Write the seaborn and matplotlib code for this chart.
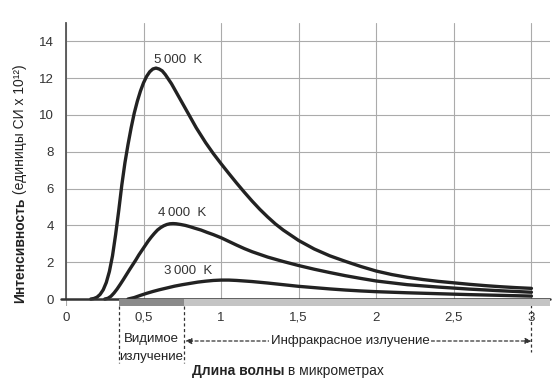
import numpy as np
import pandas as pd
import matplotlib.pyplot as plt
import seaborn as sns

# ---- values (wavelength in micrometres, intensity in SI units x 10^12)
wl_5000 = [0.16, 0.18, 0.20, 0.22, 0.24, 0.26, 0.28, 0.30, 0.32, 0.34, 0.36, 0.38, 0.40,
           0.42, 0.44, 0.46, 0.48, 0.50, 0.52, 0.54, 0.56, 0.58, 0.60, 0.62, 0.64, 0.66,
           0.68, 0.70, 0.72, 0.75, 0.78, 0.81, 0.84, 0.87, 0.90, 0.95, 1.00, 1.05, 1.10,
           1.15, 1.20, 1.25, 1.30, 1.35, 1.40, 1.50, 1.60, 1.70, 1.80, 1.90, 2.00, 2.10,
           2.20, 2.30, 2.40, 2.50, 2.60, 2.70, 2.80, 2.90, 3.00]
int_5000 = [0.0, 0.03, 0.1, 0.25, 0.5, 0.9, 1.5, 2.35, 3.5, 4.8, 6.2, 7.4, 8.4,
            9.3, 10.1, 10.75, 11.3, 11.75, 12.1, 12.35, 12.5, 12.55, 12.5, 12.4, 12.2, 11.95,
            11.7, 11.4, 11.1, 10.65, 10.2, 9.75, 9.3, 8.9, 8.5, 7.9, 7.35, 6.82, 6.3,
            5.8, 5.32, 4.87, 4.46, 4.08, 3.75, 3.18, 2.72, 2.35, 2.05, 1.77, 1.52, 1.33,
            1.18, 1.06, 0.96, 0.88, 0.8, 0.73, 0.67, 0.62, 0.58]

wl_4000 = [0.25, 0.27, 0.29, 0.31, 0.33, 0.35, 0.37, 0.39, 0.41, 0.43, 0.45, 0.47, 0.49,
           0.51, 0.53, 0.55, 0.57, 0.59, 0.61, 0.63, 0.65, 0.67, 0.69, 0.71, 0.74, 0.77,
           0.80, 0.83, 0.87, 0.91, 0.95, 1.00, 1.05, 1.10, 1.15, 1.20, 1.30, 1.40, 1.50,
           1.60, 1.70, 1.80, 1.90, 2.00, 2.20, 2.40, 2.60, 2.80, 3.00]
int_4000 = [0.0, 0.04, 0.15, 0.33, 0.55, 0.8, 1.06, 1.33, 1.6, 1.86, 2.12, 2.4, 2.65,
            2.9, 3.15, 3.37, 3.57, 3.75, 3.88, 3.98, 4.05, 4.09, 4.1, 4.09, 4.05, 4.0,
            3.93, 3.85, 3.75, 3.62, 3.5, 3.33, 3.13, 2.93, 2.74, 2.57, 2.28, 2.04, 1.82,
            1.62, 1.44, 1.27, 1.12, 0.98, 0.78, 0.65, 0.54, 0.45, 0.37]

wl_3000 = [0.40, 0.44, 0.48, 0.52, 0.56, 0.60, 0.65, 0.70, 0.75, 0.80, 0.85, 0.90, 0.95,
           1.00, 1.05, 1.10, 1.15, 1.20, 1.30, 1.40, 1.50, 1.60, 1.70, 1.80, 1.90, 2.00,
           2.20, 2.40, 2.60, 2.80, 3.00]
int_3000 = [0.0, 0.08, 0.2, 0.31, 0.41, 0.5, 0.6, 0.7, 0.78, 0.85, 0.92, 0.97, 1.01,
            1.03, 1.03, 1.01, 0.98, 0.95, 0.87, 0.78, 0.69, 0.62, 0.55, 0.49, 0.44, 0.4,
            0.34, 0.29, 0.24, 0.2, 0.16]

temps = ['5000', '4000', '3000']
curve_labels = ['5\u2009000  K', '4\u2009000  K', '3\u2009000  K']
x_ticks = [0, 0.5, 1, 1.5, 2, 2.5, 3]
x_tick_labels = ['0', '0,5', '1', '1,5', '2', '2,5', '3']
y_ticks = [0, 2, 4, 6, 8, 10, 12, 14]
visible_band = [0.34, 0.76]
infrared_band = [0.76, 3.12]

df = pd.concat([
    pd.DataFrame({'wl': wl_5000, 'I': int_5000, 'T': '5000'}),
    pd.DataFrame({'wl': wl_4000, 'I': int_4000, 'T': '4000'}),
    pd.DataFrame({'wl': wl_3000, 'I': int_3000, 'T': '3000'}),
])

sns.set_style('white')
plt.rcParams['font.family'] = ['Liberation Sans', 'DejaVu Sans']

fig = plt.figure(figsize=(5.59, 3.83), dpi=100)
ax = fig.add_axes([0.118, 0.200, 0.866, 0.740])

ax.grid(True, color='#ababab', linewidth=0.8)
ax.set_axisbelow(True)

sns.lineplot(data=df, x='wl', y='I', hue='T', hue_order=temps,
             palette=['#222222'] * 3, linewidth=2.4, estimator=None,
             legend=False, ax=ax, zorder=3)
for ln in ax.lines:
    ln.set_solid_joinstyle('round')
    ln.set_solid_capstyle('round')

ax.set_xlim(0, 3.12)
ax.set_ylim(-0.4, 15)
ax.set_xticks(x_ticks)
ax.set_xticklabels(x_tick_labels)
ax.set_yticks(y_ticks)
ax.tick_params(axis='x', length=0, pad=4, labelsize=9.5, labelcolor='#333333')
ax.tick_params(axis='y', length=6.5, width=0.8, color='#ababab', pad=2,
               labelsize=9.5, labelcolor='#333333')
ax.set_xlabel('')
ax.set_ylabel('')

for s in ['top', 'right', 'bottom']:
    ax.spines[s].set_visible(False)
ax.spines['left'].set_bounds(0, 15)
ax.spines['left'].set_color('#555555')
ax.spines['left'].set_linewidth(1.3)

# x axis line at zero
ax.plot([-0.03, 3.12], [0, 0], color='#333333', lw=1.8, clip_on=False, zorder=4)

# spectral band strip under the axis
ax.fill_between(visible_band, -0.38, 0, color='#8a8a8a', lw=0, zorder=4, clip_on=False)
ax.fill_between(infrared_band, -0.38, 0, color='#c4c4c4', lw=0, zorder=4, clip_on=False)

# curve labels
for lab, (lx, ly) in zip(curve_labels, [(0.565, 13.0), (0.59, 4.65), (0.63, 1.5)]):
    ax.text(lx, ly, lab, fontsize=9.5, color='#333333', va='center', ha='left')

# dashed band limits
dash = (0, (2.5, 2))
ax.plot([visible_band[0]] * 2, [-0.38, -3.45], color='#333333', lw=0.9, ls=dash, clip_on=False)
ax.plot([visible_band[1]] * 2, [-0.38, -3.45], color='#333333', lw=0.9, ls=dash, clip_on=False)
ax.plot([3.0, 3.0], [0, -2.9], color='#333333', lw=0.9, ls=dash, clip_on=False)

ax.text(sum(visible_band) / 2, -2.17, 'Видимое', ha='center', va='center', fontsize=9.5, color='#222222')
ax.text(sum(visible_band) / 2, -3.15, 'излучение', ha='center', va='center', fontsize=9.5, color='#222222')

ax.annotate('', xy=(visible_band[1] + 0.01, -2.28), xytext=(3.0, -2.28),
            xycoords='data', textcoords='data', annotation_clip=False,
            arrowprops=dict(arrowstyle='<|-|>', linestyle=dash, color='#333333',
                            lw=0.9, mutation_scale=9, shrinkA=0, shrinkB=0))
ax.text(1.83, -2.28, 'Инфракрасное излучение', ha='center', va='center', fontsize=9.5,
        color='#222222', bbox=dict(facecolor='white', edgecolor='none', pad=1.0), zorder=5)

# axis titles: bold part + regular part
t1 = ax.text(0.81, -3.9, 'Длина волны', ha='left', va='center', fontsize=10,
             fontweight='bold', color='#222222')
ax.annotate(' в микрометрах', xy=(1, 0.5), xycoords=t1, ha='left', va='center',
            fontsize=10, color='#222222')

t2 = fig.text(20 / 559, 1 - 303 / 383, 'Интенсивность', rotation=90, ha='center',
              va='bottom', fontsize=10, fontweight='bold', color='#222222')
ax.annotate(' (единицы СИ x 10¹²)', xy=(0.5, 1), xycoords=t2, rotation=90,
            ha='center', va='bottom', fontsize=10, color='#222222')

fig.savefig('out.png', dpi=100, facecolor='white')
